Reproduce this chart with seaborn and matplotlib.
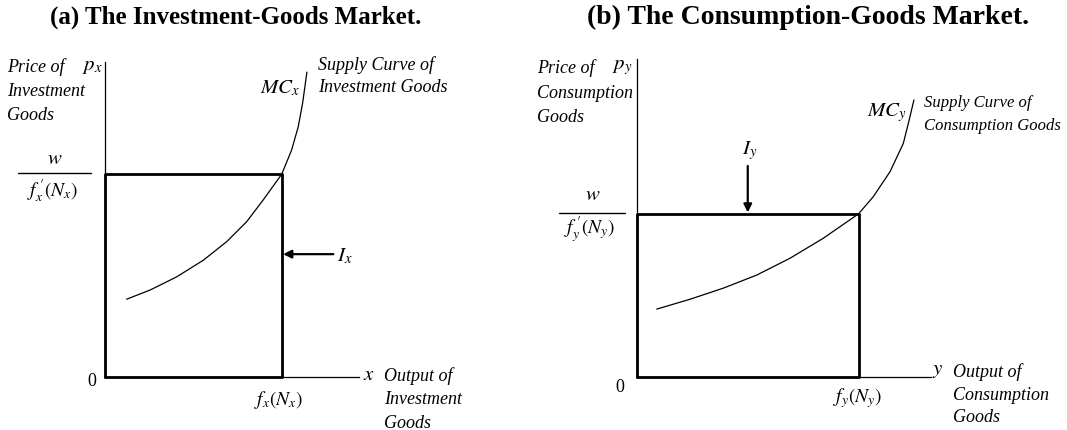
import matplotlib.pyplot as plt
import seaborn as sns

# supply (marginal cost) curves, axis units 0..10
mc_x_output = [0.85, 1.77, 2.82, 3.87, 4.79, 5.57, 6.22, 6.95, 7.34, 7.60, 7.77, 7.94]
mc_x_price = [2.46, 2.75, 3.17, 3.70, 4.29, 4.92, 5.61, 6.43, 7.20, 7.94, 8.68, 9.67]
mc_y_output = [0.68, 1.81, 2.94, 4.07, 5.20, 6.33, 7.53, 8.03, 8.60, 9.05, 9.25, 9.41]
mc_y_price = [2.13, 2.44, 2.79, 3.20, 3.73, 4.36, 5.13, 5.67, 6.46, 7.35, 8.09, 8.72]

# equilibrium (output, price) giving the income rectangles I_x and I_y
eq_x = (6.95, 6.43)
eq_y = (7.53, 5.13)

# arrow tails pointing at the rectangles
arrow_x_tail = (8.98, 3.89)
arrow_y_tail = (3.77, 6.64)

W, H = 1067, 430

sns.set_theme(style="white")
plt.rcParams['font.family'] = ['Liberation Serif', 'DejaVu Serif']
plt.rcParams['mathtext.fontset'] = 'stix'

fig = plt.figure(figsize=(W / 100, H / 100), dpi=100)
fig.patch.set_facecolor('white')


def px_text(x, y, s, size=13, ha='left', va='center', style='italic', weight='normal'):
    fig.text(x / W, 1 - y / H, s, fontsize=size, ha=ha, va=va,
             style=style, weight=weight, color='black')


def panel(rect, curve_x, curve_y, eq):
    ax = fig.add_axes(rect)
    ax.set_xlim(0, 10)
    ax.set_ylim(0, 10)
    ax.set_facecolor('none')
    for s in ['top', 'right']:
        ax.spines[s].set_visible(False)
    for s in ['left', 'bottom']:
        ax.spines[s].set_color('black')
        ax.spines[s].set_linewidth(0.9)
    ax.set_xticks([])
    ax.set_yticks([])
    sns.lineplot(x=curve_x, y=curve_y, ax=ax, color='black', lw=0.9,
                 sort=False, estimator=None)
    q, p = eq
    ax.plot([0, q, q], [p, p, 0], color='black', lw=2.0, clip_on=False,
            solid_capstyle='butt')
    ax.plot([0, q], [0, 0], color='black', lw=2.0, clip_on=False)
    ax.plot([0, 0], [0, p], color='black', lw=2.0, clip_on=False)
    return ax


ax1 = panel([105 / W, (H - 376.7) / H, 254.3 / W, 315 / H], mc_x_output, mc_x_price, eq_x)
ax2 = panel([636.7 / W, (H - 376.7) / H, 294.6 / W, 317.4 / H], mc_y_output, mc_y_price, eq_y)

ax1.annotate('', xy=(eq_x[0], arrow_x_tail[1]), xytext=arrow_x_tail,
             arrowprops=dict(arrowstyle='-|>', color='black', lw=1.6,
                             mutation_scale=12, shrinkA=0, shrinkB=1))
ax2.annotate('', xy=(arrow_y_tail[0], eq_y[1]), xytext=arrow_y_tail,
             arrowprops=dict(arrowstyle='-|>', color='black', lw=1.6,
                             mutation_scale=12, shrinkA=0, shrinkB=1))

# titles
px_text(236, 17, '(a) The Investment-Goods Market.', size=18, ha='center',
        style='normal', weight='bold')
px_text(808, 17, '(b) The Consumption-Goods Market.', size=20, ha='center',
        style='normal', weight='bold')

# left panel labels
px_text(7, 67, 'Price of')
px_text(82, 66, r'$p_x$', size=15)
px_text(7, 91, 'Investment')
px_text(7, 115, 'Goods')
px_text(300, 88, r'$MC_x$', size=15, ha='right')
px_text(318, 65, 'Supply Curve of')
px_text(318, 88, 'Investment Goods')
px_text(55, 159, r'$w$', size=15, ha='center')
fig.add_artist(plt.Line2D([18 / W, 91 / W], [1 - 172.7 / H, 1 - 172.7 / H],
                          color='black', lw=1.0))
px_text(53, 191, r"$f^{\,\prime}_{x}(N_{x})$", size=14, ha='center')
px_text(337, 256, r'$I_x$', size=15)
px_text(92, 382, '0', size=13, ha='center', style='normal')
px_text(279, 400, r'$f_x(N_x)$', size=14, ha='center')
px_text(369, 375, r'$x$', size=15, ha='center')
px_text(384, 376, 'Output of')
px_text(384, 400, 'Investment')
px_text(384, 423, 'Goods')

# right panel labels
px_text(537, 68, 'Price of')
px_text(612, 67, r'$p_y$', size=15)
px_text(537, 93, 'Consumption')
px_text(537, 118, 'Goods')
px_text(907, 113, r'$MC_y$', size=15, ha='right')
px_text(924, 103, 'Supply Curve of', size=12)
px_text(924, 126, 'Consumption Goods', size=12)
px_text(750, 151, r'$I_y$', size=15, ha='center')
px_text(593, 196, r'$w$', size=15, ha='center')
fig.add_artist(plt.Line2D([559 / W, 625 / W], [1 - 213.3 / H, 1 - 213.3 / H],
                          color='black', lw=1.0))
px_text(590, 230, r"$f^{\,\prime}_{y}(N_{y})$", size=14, ha='center')
px_text(620, 388, '0', size=13, ha='center', style='normal')
px_text(858, 398, r'$f_y(N_y)$', size=14, ha='center')
px_text(938, 371, r'$y$', size=15, ha='center')
px_text(953, 372, 'Output of')
px_text(953, 395, 'Consumption')
px_text(953, 418, 'Goods')

fig.savefig('out.png', dpi=100, facecolor='white')
